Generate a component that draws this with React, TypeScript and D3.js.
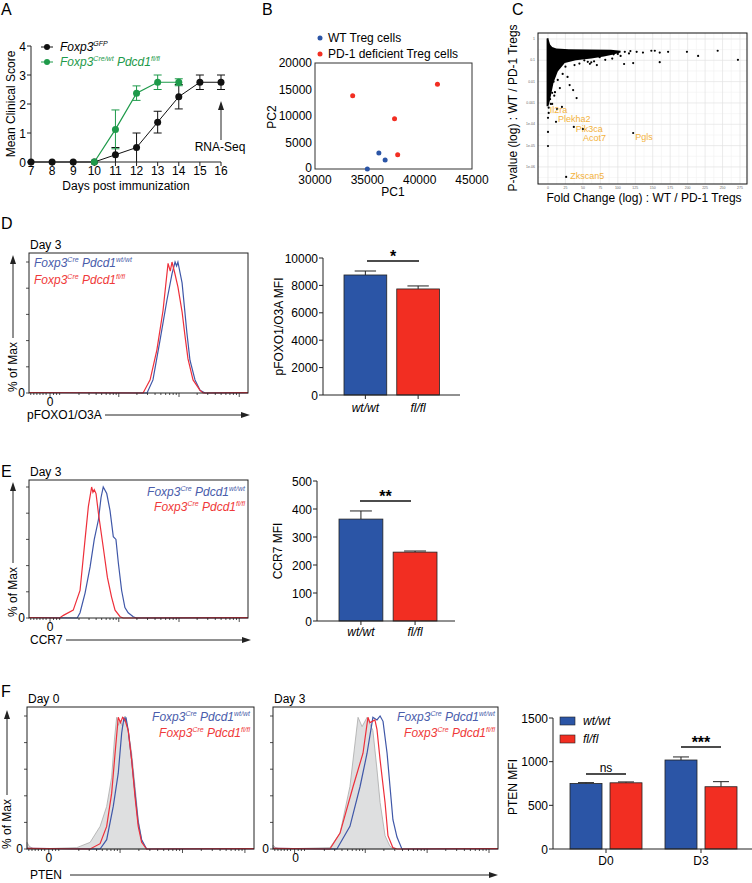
import React from 'react';
import * as d3 from 'd3';

const FONT = '"Liberation Sans", Arial, Helvetica, sans-serif';
const BAR_BLUE = '#2b55a6';
const BAR_RED = '#f22e22';
const LINE_BLUE = '#3f57a8';
const LINE_RED = '#ee2f3a';
const TXT_BLUE = '#4a5dab';
const TXT_RED = '#ef3a3a';
const GREEN = '#1e9a4a';
const ORANGE = '#f3b23c';
const AXIS = '#222';

// ---------- A: clinical score
const days = [7, 8, 9, 10, 11, 12, 13, 14, 15, 16];
const gfpScore = [0, 0, 0, 0, 0.25, 0.5, 1.375, 2.25, 2.75, 2.75];
const gfpErr = [0, 0, 0, 0, 0.25, 0.5, 0.375, 0.42, 0.25, 0.25];
const koDays = [10, 11, 12, 13, 14];
const koScore = [0, 1.125, 2.375, 2.75, 2.75];
const koErr = [0, 0.67, 0.25, 0.25, 0.12];
const scoreTicks = [0, 1, 2, 3, 4];

// ---------- B: PCA
const wtPC1 = [35000, 36100, 36700];
const wtPC2 = [0, 3000, 1700];
const koPC1 = [33600, 37600, 37900, 41700];
const koPC2 = [13800, 9500, 2700, 16000];
const pc1Ticks = [30000, 35000, 40000, 45000];
const pc2Ticks = [0, 5000, 10000, 15000, 20000];

// ---------- C: fold change vs p-value
const cloudEdge: [number, number][] = [
  [-2, 0.0007], [-2, 1.05], [0.5, 1.1], [1.5, 0.8], [3, 0.55], [6, 0.42], [12, 0.36],
  [30, 0.33], [60, 0.32], [90, 0.31], [104, 0.28], [104, 0.23], [92, 0.18], [80, 0.15],
  [62, 0.12], [40, 0.1], [24, 0.075], [14, 0.03], [8, 0.009], [5, 0.003],
  [3, 0.0014], [1.5, 0.0009], [0.5, 0.0007],
];
const dotFC = [
  110, 127, 136, 148, 153, 160, 172, 199, 215, 243, 272, 109, 122, 160,
  88, 94, 84, 62, 70, 57, 60, 46, 74, 82, 92, 100, 104, 116, 118,
  21, 28, 31, 36, 41, 17, 10, 20, 25, 38, 45, 52, 66, 8, 14, 6, 9, 4,
  13, 0, 0, 0, 6, 3, 1,
];
const dotP = [
  0.25, 0.25, 0.23, 0.28, 0.28, 0.23, 0.25, 0.25, 0.16, 0.28, 0.105, 0.067, 0.074, 0.082,
  0.25, 0.19, 0.21, 0.08, 0.06, 0.085, 0.068, 0.126, 0.14, 0.105, 0.12, 0.2, 0.16, 0.21, 0.27,
  0.023, 0.0166, 0.0069, 0.004, 0.0017, 0.005, 0.0032, 0.00065, 0.05, 0.06, 0.07, 0.1, 0.09, 0.01, 0.012, 0.003, 0.0022, 0.0009,
  0.00052, 0.0002, 0.000044, 0.0000096, 0.0009, 0.0015, 0.0006,
];
const geneNames = ['Il2ra', 'Plekha2', 'Pik3ca', 'Acot7', 'Pgls', 'Zkscan5'];
const geneFC = [1, 11.5, 37, 50, 122, 26];
const geneP = [3.4e-4, 1.3e-4, 7.5e-5, 6e-5, 3.9e-5, 3.4e-7];
const geneLabelDx = [1, 2, 2, 0, 2, 4];
const geneLabelDy = [0, 0.5, 5, 12, 6.5, 2.5];
const fcTicks = [0, 25, 50, 75, 100, 125, 150, 175, 200, 225, 250, 275];
const pTicks = [1, 0.1, 0.01, 0.001, 1e-4, 1e-5, 1e-6];
const pTickLabels = ['1', '0.1', '0.01', '0.001', '1e-04', '1e-05', '1e-06'];

// ---------- histograms: [channel 0-1000, % of max]
type Pt = [number, number];
const foxoWt: Pt[] = [[539, 0], [566, 10], [598, 40], [630, 71], [653, 91], [667, 100], [674, 97], [680, 100], [699, 84], [721, 46], [735, 25], [758, 10], [781, 2], [804, 0]];
const foxoFl: Pt[] = [[521, 0], [553, 10], [584, 33], [612, 63], [635, 99], [645, 93], [653, 100], [665, 92], [680, 81], [699, 62], [712, 44], [726, 26], [749, 10], [781, 2], [795, 0]];
const ccr7Wt: Pt[] = [[220, 0], [233, 4], [256, 19], [279, 39], [298, 60], [317, 75], [329, 92], [339, 100], [355, 95], [370, 82], [385, 62], [397, 60], [408, 42], [423, 21], [438, 8], [453, 4], [476, 1], [490, 0]];
const ccr7Fl: Pt[] = [[140, 0], [157, 2], [202, 6], [233, 21], [256, 60], [271, 85], [286, 100], [292, 96], [298, 98], [306, 95], [317, 80], [339, 54], [358, 31], [377, 16], [393, 6], [416, 1], [430, 0]];
const ptenD0Ctrl: Pt[] = [[0, 5], [10, 2], [30, 0], [219, 1], [278, 5], [322, 17], [351, 32], [373, 54], [385, 82], [395, 99], [403, 93], [410, 97], [421, 92], [432, 100], [446, 89], [461, 72], [476, 47], [490, 22], [505, 7], [520, 1], [530, 0]];
const ptenD0Wt: Pt[] = [[322, 0], [351, 7], [380, 32], [402, 57], [417, 87], [427, 99], [432, 96], [436, 99], [446, 89], [461, 67], [476, 42], [490, 20], [505, 7], [527, 0]];
const ptenD0Fl: Pt[] = [[278, 0], [322, 4], [351, 17], [373, 42], [388, 72], [402, 99], [412, 95], [421, 99], [432, 97], [446, 89], [461, 67], [476, 39], [490, 17], [505, 5], [527, 0]];
const ptenD3Ctrl: Pt[] = [[0, 3], [12, 1], [30, 0], [253, 1], [298, 12], [342, 47], [378, 99], [396, 92], [418, 99], [444, 89], [462, 60], [476, 35], [498, 10], [520, 2], [540, 0]];
const ptenD3Wt: Pt[] = [[284, 0], [342, 17], [387, 47], [418, 72], [444, 99], [462, 97], [476, 100], [489, 96], [507, 72], [520, 47], [533, 22], [551, 9], [573, 0]];
const ptenD3Fl: Pt[] = [[253, 0], [298, 12], [356, 47], [400, 72], [422, 99], [431, 95], [453, 97], [462, 90], [476, 67], [498, 35], [511, 10], [533, 1], [551, 0]];

// ---------- bar charts
const genotypes = ['wt/wt', 'fl/fl'];
const foxoMean = [8760, 7740];
const foxoErr = [290, 220];
const foxoTicks = [0, 2000, 4000, 6000, 8000, 10000];
const ccr7Mean = [364, 246];
const ccr7Err = [29, 4];
const ccr7Ticks = [0, 100, 200, 300, 400, 500];
const ptenDays = ['D0', 'D3'];
const ptenWt = [750, 1019];
const ptenWtErr = [10, 35];
const ptenFl = [758, 713];
const ptenFlErr = [10, 58];
const ptenTicks = [0, 500, 1000, 1500];

// ---------- helpers
function Geno({ x, y, color, sup, anchor = 'start' }: any) {
  return (
    <text x={x} y={y} fill={color} fontSize={12} fontStyle="italic" textAnchor={anchor}>
      Foxp3<tspan fontSize={7} dy={-5}>Cre</tspan>
      <tspan dy={5}>{' Pdcd1'}</tspan>
      <tspan fontSize={7} dy={-5}>{sup}</tspan>
    </text>
  );
}

function ArrowH({ x1, x2, y }: any) {
  return (
    <g>
      <line x1={x1} x2={x2 - 6} y1={y} y2={y} stroke={AXIS} strokeWidth={1} />
      <polygon points={`${x2},${y} ${x2 - 9},${y - 3} ${x2 - 9},${y + 3}`} fill={AXIS} />
    </g>
  );
}

function ArrowV({ x, y1, y2 }: any) {
  return (
    <g>
      <line x1={x} x2={x} y1={y1} y2={y2 + 6} stroke={AXIS} strokeWidth={1} />
      <polygon points={`${x},${y2} ${x - 3},${y2 + 9} ${x + 3},${y2 + 9}`} fill={AXIS} />
    </g>
  );
}

const histTicks = (() => {
  const t: { c: number; major: boolean }[] = [];
  [8, 22, 36, 50, 64, 78].forEach((c) => t.push({ c, major: false }));
  t.push({ c: 96, major: true });
  [112, 126, 140].forEach((c) => t.push({ c, major: false }));
  const decades = [[150, 410], [410, 685], [685, 960]];
  decades.forEach(([a, b]) => {
    for (let m = 2; m <= 9; m++) t.push({ c: a + Math.log10(m) * (b - a), major: false });
    t.push({ c: b, major: true });
  });
  return t;
})();

function Histogram({ left, right, top, bottom, peak, title, curves, shaded, zeroX }: any) {
  const x = d3.scaleLinear().domain([0, 1000]).range([left, right]);
  const y = d3.scaleLinear().domain([0, 100]).range([bottom, peak]);
  const line = d3.line<Pt>().x((d) => x(d[0])).y((d) => y(d[1]));
  const area = d3.area<Pt>().x((d) => x(d[0])).y0(bottom).y1((d) => y(d[1]));
  const pad = (d: Pt[]): Pt[] => [[0, 0.4], ...d, [1000, 0.3]];
  return (
    <g>
      <text x={left + 1} y={top - 4} fontSize={12}>{title}</text>
      {shaded && <path d={area(shaded) || ''} fill="#dedfe0" stroke="#a9a9a9" strokeWidth={0.8} />}
      {curves.map((c: any, i: number) => (
        <path key={i} d={line(pad(c.data)) || ''} fill="none" stroke={c.color} strokeWidth={1.2} />
      ))}
      <rect x={left} y={top} width={right - left} height={bottom - top} fill="none" stroke={AXIS} strokeWidth={1} />
      {[0, 20, 40, 60, 80, 100].map((v) => (
        <line key={v} x1={left - 3} x2={left} y1={y(v)} y2={y(v)} stroke={AXIS} strokeWidth={0.8} />
      ))}
      <text x={left - 4} y={bottom + 4} fontSize={12} textAnchor="end">0</text>
      {histTicks.map((t, i) => (
        <line key={i} x1={x(t.c)} x2={x(t.c)} y1={bottom} y2={bottom + (t.major ? 4 : 2)} stroke={AXIS} strokeWidth={0.8} />
      ))}
      <text x={x(zeroX)} y={bottom + 13} fontSize={12} textAnchor="middle">0</text>
    </g>
  );
}

function PctLabel({ x, yBottom, arrowTop, arrowX }: any) {
  return (
    <g>
      <text transform={`translate(${x},${yBottom}) rotate(-90)`} fontSize={12}>% of Max</text>
      <ArrowV x={arrowX} y1={yBottom - 54} y2={arrowTop} />
    </g>
  );
}

// ---------- panels
function PanelA() {
  const x = d3.scaleLinear().domain([7, 16]).range([31, 221]);
  const y = d3.scaleLinear().domain([0, 4]).range([162, 46]);
  const gfp = days.map((d, i) => ({ d, v: gfpScore[i], e: gfpErr[i] }));
  const ko = koDays.map((d, i) => ({ d, v: koScore[i], e: koErr[i] }));
  const line = d3.line<any>().x((p) => x(p.d)).y((p) => y(p.v));
  const errs = (pts: any[], color: string) =>
    pts.filter((p) => p.e > 0).map((p, i) => (
      <g key={i} stroke={color} strokeWidth={1}>
        <line x1={x(p.d)} x2={x(p.d)} y1={y(Math.max(0, p.v - p.e))} y2={y(p.v + p.e)} />
        <line x1={x(p.d) - 4} x2={x(p.d) + 4} y1={y(p.v + p.e)} y2={y(p.v + p.e)} />
        {p.v - p.e > 0 && <line x1={x(p.d) - 4} x2={x(p.d) + 4} y1={y(p.v - p.e)} y2={y(p.v - p.e)} />}
      </g>
    ));
  return (
    <g>
      <text x={1} y={15} fontSize={16}>A</text>
      <line x1={31} x2={31} y1={y(4)} y2={y(0)} stroke={AXIS} />
      <line x1={31} x2={x(16)} y1={y(0)} y2={y(0)} stroke={AXIS} />
      {scoreTicks.map((t) => (
        <g key={t}>
          <line x1={27} x2={31} y1={y(t)} y2={y(t)} stroke={AXIS} />
          <text x={26} y={y(t) + 4.5} fontSize={12} textAnchor="end">{t}</text>
        </g>
      ))}
      {days.map((d) => (
        <g key={d}>
          <line x1={x(d)} x2={x(d)} y1={y(0)} y2={y(0) + 4} stroke={AXIS} />
          <text x={x(d)} y={175} fontSize={12} textAnchor="middle">{d}</text>
        </g>
      ))}
      <text x={126} y={190} fontSize={12} textAnchor="middle">Days post immunization</text>
      <text transform="translate(15,104) rotate(-90)" fontSize={12} textAnchor="middle">Mean Clinical Score</text>
      {errs(gfp, '#111')}
      <path d={line(gfp) || ''} fill="none" stroke="#111" strokeWidth={1} />
      {gfp.map((p, i) => <circle key={i} cx={x(p.d)} cy={y(p.v)} r={3.5} fill="#111" />)}
      {errs(ko, GREEN)}
      <path d={line(ko) || ''} fill="none" stroke={GREEN} strokeWidth={1.2} />
      {ko.map((p, i) => <circle key={i} cx={x(p.d)} cy={y(p.v)} r={3.5} fill={GREEN} />)}
      {/* legend */}
      <line x1={41} x2={53} y1={47} y2={47} stroke="#111" />
      <circle cx={47} cy={47} r={3} fill="#111" />
      <text x={60} y={51} fontSize={12} fontStyle="italic">Foxp3<tspan fontSize={7} dy={-5}>GFP</tspan></text>
      <line x1={41} x2={53} y1={62} y2={62} stroke={GREEN} />
      <circle cx={47} cy={62} r={3} fill={GREEN} />
      <text x={60} y={66} fontSize={12} fontStyle="italic" fill={GREEN}>
        Foxp3<tspan fontSize={7} dy={-5}>Cre/wt</tspan><tspan dy={5}>{' Pdcd1'}</tspan><tspan fontSize={7} dy={-5}>fl/fl</tspan>
      </text>
      <ArrowV x={x(16)} y1={140} y2={101} />
      <text x={x(16) - 1} y={151} fontSize={12} textAnchor="middle">RNA-Seq</text>
    </g>
  );
}

function PanelB() {
  const x = d3.scaleLinear().domain([30000, 45000]).range([315, 472]);
  const y = d3.scaleLinear().domain([0, 20000]).range([169, 63]);
  return (
    <g>
      <text x={262} y={15} fontSize={16}>B</text>
      <circle cx={320} cy={38} r={2.5} fill={BAR_BLUE} />
      <text x={328} y={42} fontSize={12}>WT Treg cells</text>
      <circle cx={320} cy={54} r={2.5} fill={BAR_RED} />
      <text x={328} y={58} fontSize={12}>PD-1 deficient Treg cells</text>
      <rect x={315} y={63} width={157} height={106} fill="none" stroke="#333" />
      {pc2Ticks.map((t) => <text key={t} x={312} y={y(t) + (t === 0 ? 2.5 : 4)} fontSize={12} textAnchor="end">{t}</text>)}
      {pc1Ticks.map((t) => <text key={t} x={x(t)} y={184} fontSize={12} textAnchor="middle">{t}</text>)}
      <text transform="translate(276,117) rotate(-90)" fontSize={12} textAnchor="middle">PC2</text>
      <text x={393} y={196} fontSize={12} textAnchor="middle">PC1</text>
      {wtPC1.map((v, i) => <circle key={'w' + i} cx={x(v)} cy={y(wtPC2[i])} r={2.5} fill={BAR_BLUE} />)}
      {koPC1.map((v, i) => <circle key={'k' + i} cx={x(v)} cy={y(koPC2[i])} r={2.5} fill={BAR_RED} />)}
    </g>
  );
}

function PanelC() {
  const x = d3.scaleLinear().domain([-14.3, 285]).range([538, 747]);
  const y = d3.scaleLog().domain([Math.pow(10, 0.28), Math.pow(10, -6.8)]).range([33, 184]);
  const cloud = d3.line<[number, number]>().x((d) => x(d[0])).y((d) => y(d[1]));
  const yMinor = pTicks.map((t) => t / Math.sqrt(10));
  const xMinor = fcTicks.map((t) => t + 12.5);
  return (
    <g>
      <text x={512} y={15} fontSize={16}>C</text>
      <rect x={538} y={33} width={209} height={151} fill="#fff" />
      {xMinor.map((t) => <line key={'xm' + t} x1={x(t)} x2={x(t)} y1={33} y2={184} stroke="#f2f2f2" strokeWidth={0.6} />)}
      {yMinor.map((t, i) => <line key={'ym' + i} x1={538} x2={747} y1={y(t)} y2={y(t)} stroke="#f2f2f2" strokeWidth={0.6} />)}
      {fcTicks.map((t) => <line key={'x' + t} x1={x(t)} x2={x(t)} y1={33} y2={184} stroke="#e3e3e3" strokeWidth={0.7} />)}
      {pTicks.map((t, i) => <line key={'y' + i} x1={538} x2={747} y1={y(t)} y2={y(t)} stroke="#e3e3e3" strokeWidth={0.7} />)}
      <path d={(cloud(cloudEdge) || '') + 'Z'} fill="#000" />
      {dotFC.map((v, i) => <circle key={i} cx={x(v)} cy={y(dotP[i])} r={1.1} fill="#000" />)}
      {geneNames.map((g, i) => (
        <g key={g}>
          <circle cx={x(geneFC[i])} cy={y(geneP[i])} r={1.1} fill="#000" />
          <text x={x(geneFC[i]) + geneLabelDx[i]} y={y(geneP[i]) + geneLabelDy[i]} fontSize={9} fill={ORANGE}>{g}</text>
        </g>
      ))}
      <rect x={538} y={33} width={209} height={151} fill="none" stroke="#111" strokeWidth={1} />
      {fcTicks.map((t) => <text key={'xl' + t} x={x(t)} y={189} fontSize={3.5} fill="#666" textAnchor="middle">{t}</text>)}
      {pTicks.map((t, i) => <text key={'yl' + i} x={535} y={y(t) + 1.2} fontSize={3.5} fill="#666" textAnchor="end">{pTickLabels[i]}</text>)}
      <text transform="translate(517,108) rotate(-90)" fontSize={12} textAnchor="middle">P-value (log) : WT / PD-1 Tregs</text>
      <text x={644} y={202} fontSize={12} textAnchor="middle">Fold Change (log) : WT / PD-1 Tregs</text>
    </g>
  );
}

function SimpleBars({ axisX, axisEnd, range, yDomain, yRange, ticks, means, errs, sig, sigY, sigX, title, titleX, labelY, sigSize }: any) {
  const y = d3.scaleLinear().domain(yDomain).range(yRange);
  const xb = d3.scaleBand<string>().domain(genotypes).range(range).paddingInner(0.19);
  const bw = xb.bandwidth();
  return (
    <g>
      {genotypes.map((g, i) => (
        <g key={g}>
          <line x1={(xb(g) as number) + bw / 2} x2={(xb(g) as number) + bw / 2} y1={y(means[i])} y2={y(means[i] + errs[i])} stroke="#222" />
          <line x1={(xb(g) as number) + bw / 4} x2={(xb(g) as number) + (3 * bw) / 4} y1={y(means[i] + errs[i])} y2={y(means[i] + errs[i])} stroke="#222" />
          <rect x={xb(g)} y={y(means[i])} width={bw} height={y(0) - y(means[i])} fill={i === 0 ? BAR_BLUE : BAR_RED} stroke="#222" strokeWidth={0.8} />
          <line x1={(xb(g) as number) + bw / 2} x2={(xb(g) as number) + bw / 2} y1={y(0)} y2={y(0) + 4} stroke={AXIS} />
          <text x={(xb(g) as number) + bw / 2} y={labelY} fontSize={12} fontStyle="italic" textAnchor="middle">{g}</text>
        </g>
      ))}
      <line x1={axisX} x2={axisX} y1={y(yDomain[1])} y2={y(0)} stroke={AXIS} />
      <line x1={axisX} x2={axisEnd} y1={y(0)} y2={y(0)} stroke={AXIS} />
      {ticks.map((t: number) => (
        <g key={t}>
          <line x1={axisX - 4} x2={axisX} y1={y(t)} y2={y(t)} stroke={AXIS} />
          <text x={axisX - 5} y={y(t) + 4.5} fontSize={12} textAnchor="end">{t}</text>
        </g>
      ))}
      <line x1={sigX[0]} x2={sigX[1]} y1={sigY} y2={sigY} stroke="#111" strokeWidth={1.5} />
      <text x={(sigX[0] + sigX[1]) / 2} y={sigY + 1} fontSize={sigSize} textAnchor="middle" fontWeight="bold">{sig}</text>
      <text transform={`translate(${titleX},${(y(0) + y(yDomain[1])) / 2}) rotate(-90)`} fontSize={12} textAnchor="middle">{title}</text>
    </g>
  );
}

function PanelD() {
  return (
    <g>
      <text x={1} y={229} fontSize={16}>D</text>
      <Histogram left={29} right={248} top={253} bottom={393} peak={262} title="Day 3" zeroX={96}
        curves={[{ data: foxoWt, color: LINE_BLUE }, { data: foxoFl, color: LINE_RED }]} />
      <Geno x={34} y={267} color={TXT_BLUE} sup="wt/wt" />
      <Geno x={34} y={284} color={TXT_RED} sup="fl/fl" />
      <PctLabel x={17} yBottom={392} arrowTop={255} arrowX={13} />
      <text x={27} y={419} fontSize={12}>pFOXO1/O3A</text>
      <ArrowH x1={105} x2={250} y={415} />
      <SimpleBars axisX={323} axisEnd={460} range={[344, 439.5]} yDomain={[0, 10000]} yRange={[395, 258]}
        ticks={foxoTicks} means={foxoMean} errs={foxoErr} sig="*" sigY={261} sigX={[367, 419]} sigSize={16}
        title="pFOXO1/O3A MFI" titleX={283} labelY={412} />
    </g>
  );
}

function PanelE() {
  return (
    <g>
      <text x={1} y={477} fontSize={16}>E</text>
      <Histogram left={29} right={248} top={480} bottom={618} peak={487} title="Day 3" zeroX={96}
        curves={[{ data: ccr7Wt, color: LINE_BLUE }, { data: ccr7Fl, color: LINE_RED }]} />
      <Geno x={245} y={496} color={TXT_BLUE} sup="wt/wt" anchor="end" />
      <Geno x={245} y={511} color={TXT_RED} sup="fl/fl" anchor="end" />
      <PctLabel x={17} yBottom={617} arrowTop={482} arrowX={13} />
      <text x={30} y={644} fontSize={12}>CCR7</text>
      <ArrowH x1={66} x2={251} y={640} />
      <SimpleBars axisX={317} axisEnd={455} range={[339, 437]} yDomain={[0, 500]} yRange={[621, 481]}
        ticks={ccr7Ticks} means={ccr7Mean} errs={ccr7Err} sig="**" sigY={501} sigX={[360, 411]} sigSize={16}
        title="CCR7 MFI" titleX={282} labelY={636} />
    </g>
  );
}

function PanelF() {
  const y = d3.scaleLinear().domain([0, 1500]).range([849, 718]);
  const outer = d3.scaleBand<string>().domain(ptenDays).range([570, 737]).paddingInner(0.242);
  const inner = d3.scaleBand<string>().domain(genotypes).range([0, outer.bandwidth()]).paddingInner(0.2);
  const bw = inner.bandwidth();
  const groups = ptenDays.map((d, i) => ({ d, vals: [ptenWt[i], ptenFl[i]], errs: [ptenWtErr[i], ptenFlErr[i]] }));
  const sigs = ['ns', '***'];
  const sigY = [774, 747];
  return (
    <g>
      <text x={1} y={697} fontSize={16}>F</text>
      <Histogram left={27} right={254} top={707} bottom={849} peak={716} title="Day 0" zeroX={96}
        shaded={ptenD0Ctrl}
        curves={[{ data: ptenD0Wt, color: LINE_BLUE }, { data: ptenD0Fl, color: LINE_RED }]} />
      <Geno x={250} y={721} color={TXT_BLUE} sup="wt/wt" anchor="end" />
      <Geno x={250} y={737} color={TXT_RED} sup="fl/fl" anchor="end" />
      <Histogram left={273} right={498} top={707} bottom={849} peak={716} title="Day 3" zeroX={100}
        shaded={ptenD3Ctrl}
        curves={[{ data: ptenD3Wt, color: LINE_BLUE }, { data: ptenD3Fl, color: LINE_RED }]} />
      <Geno x={495} y={721} color={TXT_BLUE} sup="wt/wt" anchor="end" />
      <Geno x={495} y={737} color={TXT_RED} sup="fl/fl" anchor="end" />
      <PctLabel x={11} yBottom={849} arrowTop={710} arrowX={7} />
      <text x={30} y={879} fontSize={12}>PTEN</text>
      <ArrowH x1={70} x2={498} y={875} />
      {groups.map((g, gi) => (
        <g key={g.d}>
          {genotypes.map((k, i) => {
            const bx = (outer(g.d) as number) + (inner(k) as number);
            return (
              <g key={k}>
                <line x1={bx + bw / 2} x2={bx + bw / 2} y1={y(g.vals[i])} y2={y(g.vals[i] + g.errs[i])} stroke="#222" />
                <line x1={bx + bw / 4} x2={bx + (3 * bw) / 4} y1={y(g.vals[i] + g.errs[i])} y2={y(g.vals[i] + g.errs[i])} stroke="#222" />
                <rect x={bx} y={y(g.vals[i])} width={bw} height={y(0) - y(g.vals[i])} fill={i === 0 ? BAR_BLUE : BAR_RED} stroke="#222" strokeWidth={0.8} />
              </g>
            );
          })}
          <line x1={(outer(g.d) as number) + outer.bandwidth() / 2} x2={(outer(g.d) as number) + outer.bandwidth() / 2} y1={849} y2={853} stroke={AXIS} />
          <text x={(outer(g.d) as number) + outer.bandwidth() / 2} y={865} fontSize={12} textAnchor="middle">{g.d}</text>
          <line x1={(outer(g.d) as number) + 16} x2={(outer(g.d) as number) + outer.bandwidth() - 16} y1={sigY[gi]} y2={sigY[gi]} stroke="#111" strokeWidth={1.5} />
          <text x={(outer(g.d) as number) + outer.bandwidth() / 2} y={gi === 0 ? sigY[gi] - 2 : sigY[gi] + 1}
            fontSize={gi === 0 ? 12 : 16} fontWeight={gi === 0 ? 'normal' : 'bold'} textAnchor="middle">{sigs[gi]}</text>
        </g>
      ))}
      <line x1={553} x2={553} y1={y(1500)} y2={y(0)} stroke={AXIS} />
      <line x1={553} x2={752} y1={y(0)} y2={y(0)} stroke={AXIS} />
      {ptenTicks.map((t) => (
        <g key={t}>
          <line x1={549} x2={553} y1={y(t)} y2={y(t)} stroke={AXIS} />
          <text x={548} y={y(t) + 4.5} fontSize={12} textAnchor="end">{t}</text>
        </g>
      ))}
      <text transform="translate(517,787) rotate(-90)" fontSize={12} textAnchor="middle">PTEN MFI</text>
      <rect x={560} y={717} width={15} height={8} fill={BAR_BLUE} stroke="#222" strokeWidth={0.6} />
      <text x={583} y={725} fontSize={12} fontStyle="italic">wt/wt</text>
      <rect x={560} y={735} width={15} height={8} fill={BAR_RED} stroke="#222" strokeWidth={0.6} />
      <text x={583} y={743} fontSize={12} fontStyle="italic">fl/fl</text>
    </g>
  );
}

export default function App() {
  return (
    <svg width={752} height={883} style={{ position: 'absolute', left: 0, top: 0, background: '#fff' }} fontFamily={FONT}>
      <rect width={752} height={883} fill="#fff" />
      <PanelA />
      <PanelB />
      <PanelC />
      <PanelD />
      <PanelE />
      <PanelF />
    </svg>
  );
}
